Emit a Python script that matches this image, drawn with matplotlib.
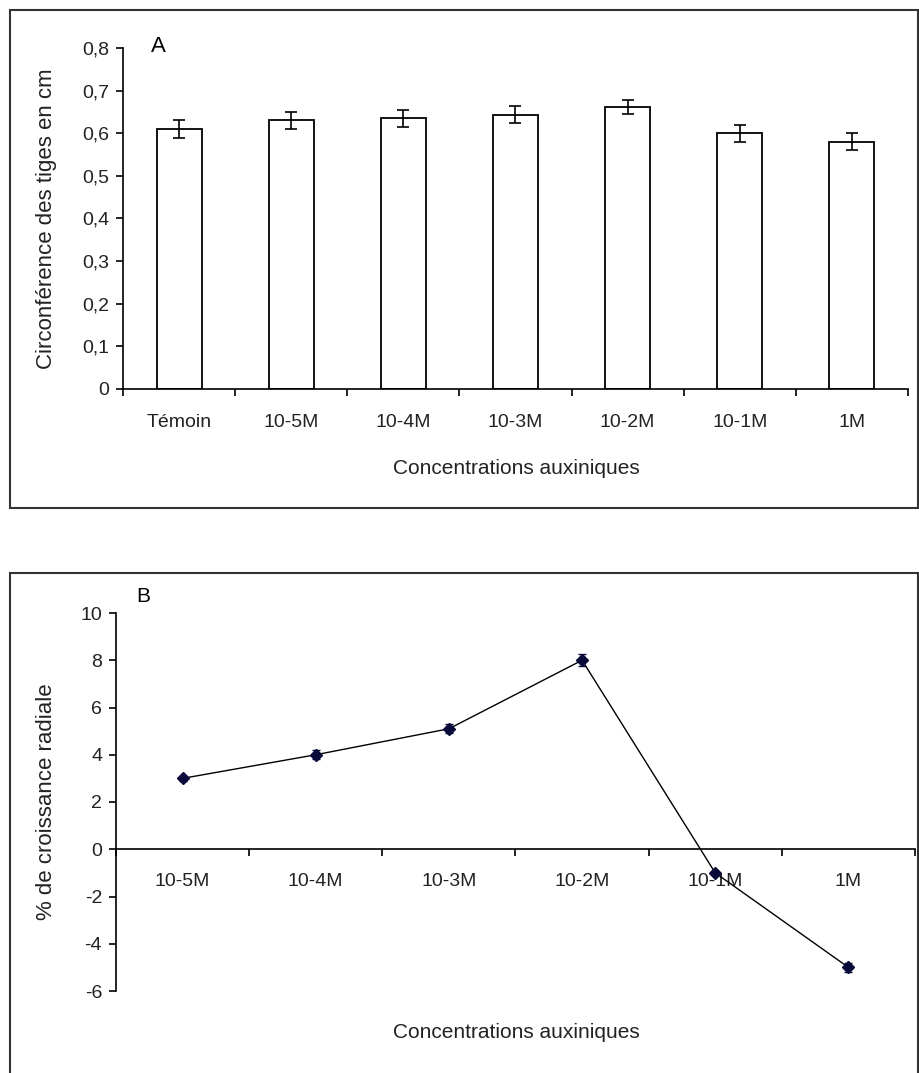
import matplotlib
matplotlib.use("Agg")
import matplotlib.pyplot as plt
from matplotlib.patches import Rectangle
from matplotlib.ticker import FuncFormatter

# Data
cats_a = ["Témoin", "10-5M", "10-4M", "10-3M", "10-2M", "10-1M", "1M"]
vals_a = [0.61, 0.63, 0.635, 0.643, 0.662, 0.60, 0.58]
errs_a = [0.02, 0.02, 0.02, 0.02, 0.016, 0.02, 0.02]

cats_b = ["10-5M", "10-4M", "10-3M", "10-2M", "10-1M", "1M"]
vals_b = [3.0, 4.0, 5.1, 8.0, -1.0, -5.0]
errs_b = [0.1, 0.2, 0.2, 0.25, 0.1, 0.2]

W, H = 920, 1073
plt.rcParams['font.family'] = ['Liberation Sans', 'DejaVu Sans']
fig = plt.figure(figsize=(W / 100, H / 100), dpi=100)

def fx(px):
    return px / W

def fy(py):
    return 1 - py / H

# Panel boxes
fig.patches.append(Rectangle((fx(10), fy(508)), fx(918) - fx(10), fy(10) - fy(508),
                             transform=fig.transFigure, fill=False, edgecolor='#333333', lw=1.5))
fig.patches.append(Rectangle((fx(10), fy(1080)), fx(918) - fx(10), fy(573) - fy(1080),
                             transform=fig.transFigure, fill=False, edgecolor='#333333', lw=1.5))

comma = FuncFormatter(lambda v, p: ("%g" % v).replace('.', ','))
tfs = 14
lfs = 15
tc = '#222222'

# Panel A
axA = fig.add_axes([fx(123), fy(389), fx(908) - fx(123), fy(48) - fy(389)])
xa = list(range(len(cats_a)))
axA.bar(xa, vals_a, width=0.4, color='white', edgecolor='black', lw=1.3)
axA.errorbar(xa, vals_a, yerr=errs_a, fmt='none', ecolor='black', elinewidth=1.2, capsize=4, capthick=1.2)
axA.set_xlim(-0.5, len(cats_a) - 0.5)
axA.set_ylim(0, 0.8)
axA.set_yticks([0, 0.1, 0.2, 0.3, 0.4, 0.5, 0.6, 0.7, 0.8])
axA.yaxis.set_major_formatter(comma)
axA.set_xticks([i + 0.5 for i in range(-1, len(cats_a))], minor=False)
axA.set_xticklabels([])
axA.set_xticks(xa, minor=True)
axA.set_xticklabels(cats_a, minor=True)
axA.tick_params(axis='x', which='minor', length=0, pad=18, labelsize=tfs, labelcolor=tc)
axA.tick_params(axis='x', which='major', length=5, width=1.2, direction='out')
axA.tick_params(axis='y', length=5, width=1.2, labelsize=tfs, labelcolor=tc, pad=5)
for s in ['top', 'right']:
    axA.spines[s].set_visible(False)
axA.spines['left'].set_linewidth(1.2)
axA.spines['bottom'].set_linewidth(1.2)
axA.set_ylabel("Circonférence des tiges en cm", fontsize=16, color=tc)
axA.yaxis.set_label_coords((57 - 123) / (908 - 123), 0.5)
fig.text(fx(516), fy(468), "Concentrations auxiniques", fontsize=lfs, color=tc,
         ha='center', va='center')
fig.text(fx(158), fy(47), "A", fontsize=16, ha='center', va='center')

# Panel B
axB = fig.add_axes([fx(116), fy(991), fx(915) - fx(116), fy(613) - fy(991)])
xb = list(range(len(cats_b)))
axB.plot(xb, vals_b, color='black', lw=1.0, zorder=2)
axB.errorbar(xb, vals_b, yerr=errs_b, fmt='D', color='#0a0a3a', ms=6, ecolor='#0a0a3a',
             elinewidth=1.2, capsize=3, zorder=3)
axB.set_xlim(-0.5, len(cats_b) - 0.5)
axB.set_ylim(-6, 10)
axB.set_yticks([-6, -4, -2, 0, 2, 4, 6, 8, 10])
axB.yaxis.set_major_formatter(FuncFormatter(lambda v, p: "%d" % v))
axB.spines['bottom'].set_position(('data', 0))
axB.set_xticks([i + 0.5 for i in range(-1, len(cats_b))])
axB.set_xticklabels([])
axB.set_xticks(xb, minor=True)
axB.set_xticklabels(cats_b, minor=True)
axB.tick_params(axis='x', which='minor', length=0, pad=17, labelsize=tfs, labelcolor=tc)
axB.tick_params(axis='x', which='major', length=5, width=1.2, direction='out')
axB.tick_params(axis='y', length=5, width=1.2, labelsize=tfs, labelcolor=tc, pad=5)
for s in ['top', 'right']:
    axB.spines[s].set_visible(False)
axB.spines['left'].set_linewidth(1.2)
axB.spines['bottom'].set_linewidth(1.2)
axB.set_ylabel("% de croissance radiale", fontsize=16, color=tc)
axB.yaxis.set_label_coords((57 - 116) / (915 - 116), 0.5)
fig.text(fx(516), fy(1032), "Concentrations auxiniques", fontsize=lfs, color=tc,
         ha='center', va='center')
fig.text(fx(143), fy(596), "B", fontsize=15, ha='center', va='center')

fig.savefig("out.png", dpi=100)
